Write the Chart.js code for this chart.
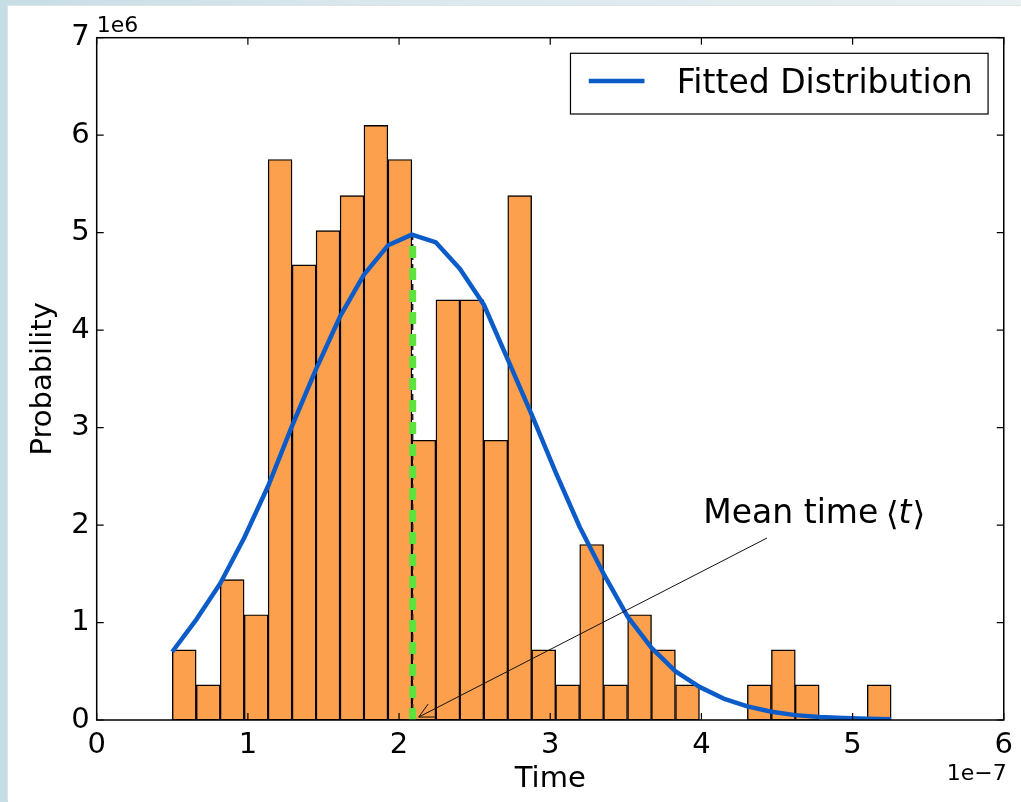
<!DOCTYPE html>
<html><head><meta charset="utf-8">
<script src="https://cdn.jsdelivr.net/npm/chart.js@4.4.1/dist/chart.umd.min.js"></script>
<style>
html,body{margin:0;padding:0;width:1021px;height:802px;overflow:hidden;background:linear-gradient(90deg,#c6dde5 0%,#d9e8ed 35%,#e8f0f2 100%);}
#wrap{position:absolute;left:8px;top:6px;width:1013px;height:796px;background:#fff;box-shadow:-1px -1px 0 #dfe3e4;}
canvas{display:block}
</style></head><body><div id="wrap"><canvas id="c" width="1013" height="796"></canvas></div>
<script>
// Histogram bins (x in units of 1e-7 s, y in units of 1e6)
const binCenters = [0.579, 0.738, 0.896, 1.055, 1.213, 1.372, 1.530, 1.689, 1.847, 2.006,
                    2.164, 2.323, 2.481, 2.640, 2.798, 2.957, 3.115, 3.274, 3.432, 3.591,
                    3.749, 3.908, 4.066, 4.225, 4.383, 4.542, 4.700, 4.859, 5.017, 5.176];
const binHeights = [0.72, 0.36, 1.44, 1.08, 5.75, 4.67, 5.02, 5.38, 6.10, 5.75,
                    2.87, 4.31, 4.31, 2.87, 5.38, 0.72, 0.36, 1.80, 0.36, 1.08,
                    0.72, 0.36, 0, 0, 0.36, 0.72, 0.36, 0, 0, 0.36];
// Fitted distribution sampled at the bin edges
const curveX = [0.500, 0.659, 0.817, 0.976, 1.134, 1.293, 1.451, 1.610, 1.768, 1.927, 2.085,
                2.244, 2.402, 2.561, 2.719, 2.878, 3.036, 3.195, 3.353, 3.512, 3.670,
                3.829, 3.987, 4.146, 4.304, 4.463, 4.621, 4.780, 4.938, 5.097, 5.255];
const curveY = [0.70, 1.03, 1.40, 1.87, 2.40, 3.02, 3.60, 4.14, 4.57, 4.87, 4.98,
                4.90, 4.63, 4.26, 3.70, 3.13, 2.54, 1.98, 1.50, 1.06, 0.74,
                0.50, 0.34, 0.22, 0.14, 0.085, 0.05, 0.03, 0.02, 0.012, 0.008];
const meanTime = 2.09;
const meanPeak = 4.97;
const arrowTip = [2.13, 0.03];
const xTicks = [0, 1, 2, 3, 4, 5, 6];
const yTicks = [0, 1, 2, 3, 4, 5, 6, 7];
const legendLabel = 'Fitted Distribution';
const annotationText = 'Mean time ';
const xOffsetText = '1e\u22127';
const yOffsetText = '1e6';

const FONT = '"DejaVu Sans", "Liberation Sans", sans-serif';

const decor = {
  id: 'decor',
  afterDatasetsDraw(chart) {
    const ctx = chart.ctx, a = chart.chartArea;
    const xs = chart.scales.x, ys = chart.scales.y;
    ctx.save();
    // frame
    ctx.strokeStyle = '#000'; ctx.lineWidth = 1.5;
    ctx.strokeRect(a.left, a.top, a.right - a.left, a.bottom - a.top);
    // inward ticks on all sides
    ctx.lineWidth = 1.2;
    ctx.beginPath();
    xTicks.forEach(v => {
      const p = xs.getPixelForValue(v);
      ctx.moveTo(p, a.bottom); ctx.lineTo(p, a.bottom - 7);
      ctx.moveTo(p, a.top); ctx.lineTo(p, a.top + 7);
    });
    yTicks.forEach(v => {
      const p = ys.getPixelForValue(v);
      ctx.moveTo(a.left, p); ctx.lineTo(a.left + 7, p);
      ctx.moveTo(a.right, p); ctx.lineTo(a.right - 7, p);
    });
    ctx.stroke();
    // offset texts
    ctx.fillStyle = '#000';
    ctx.font = '22px ' + FONT;
    ctx.textBaseline = 'alphabetic';
    ctx.textAlign = 'left';
    ctx.fillText(yOffsetText, a.left, a.top - 5.5);
    ctx.font = '22px ' + FONT;
    ctx.textAlign = 'right';
    ctx.fillText(xOffsetText, a.right + 3, a.bottom + 60);
    // legend
    const bx = a.right - 433.3, by = a.top + 15.6, bw = 417.6, bh = 60.7;
    ctx.fillStyle = '#fff';
    ctx.fillRect(bx, by, bw, bh);
    ctx.strokeStyle = '#000'; ctx.lineWidth = 1.2;
    ctx.strokeRect(bx, by, bw, bh);
    ctx.strokeStyle = '#0b5cc8'; ctx.lineWidth = 4.5;
    ctx.beginPath(); ctx.moveTo(bx + 18.3, by + 27.7); ctx.lineTo(bx + 74, by + 27.7); ctx.stroke();
    ctx.fillStyle = '#000';
    ctx.font = '33px ' + FONT;
    ctx.textAlign = 'left';
    ctx.fillText(legendLabel, bx + 106.3, by + 40);
    // annotation text
    const tx = 695.3, ty = 517.3;
    ctx.font = '33px ' + FONT;
    ctx.fillText(annotationText, tx, ty);
    let w = ctx.measureText(annotationText).width;
    ctx.fillText('\u27E8', tx + w - 3, ty + 2);
    w += ctx.measureText('\u27E8').width - 3;
    ctx.font = 'italic 33px ' + FONT;
    ctx.fillText('t', tx + w, ty);
    w += ctx.measureText('t').width;
    ctx.font = '33px ' + FONT;
    ctx.fillText('\u27E9', tx + w + 1, ty + 2);
    // arrow
    const px = xs.getPixelForValue(arrowTip[0]), py = ys.getPixelForValue(arrowTip[1]);
    const sx = 759, sy = 532;
    ctx.strokeStyle = '#111'; ctx.lineWidth = 1;
    ctx.beginPath(); ctx.moveTo(sx, sy); ctx.lineTo(px, py); ctx.stroke();
    const ang = Math.atan2(sy - py, sx - px);
    const L = 16, h = 0.47;
    ctx.beginPath();
    ctx.moveTo(px + L * Math.cos(ang - h), py + L * Math.sin(ang - h));
    ctx.lineTo(px, py);
    ctx.lineTo(px + L * Math.cos(ang + h), py + L * Math.sin(ang + h));
    ctx.stroke();
    ctx.restore();
  }
};

new Chart(document.getElementById('c'), {
  type: 'bar',
  data: {
    datasets: [
      {
        type: 'line', label: legendLabel, order: 0,
        data: curveX.map((x, i) => ({x, y: curveY[i]})),
        borderColor: '#0b5cc8', borderWidth: 4.5, pointRadius: 0, fill: false, tension: 0,
        borderJoinStyle: 'round'
      },
      {
        type: 'line', label: 'mean', order: 1,
        data: [{x: meanTime, y: 0}, {x: meanTime, y: meanPeak}],
        borderColor: '#5de23e', borderWidth: 7, borderDash: [12, 10], pointRadius: 0, fill: false,
        borderCapStyle: 'butt'
      },
      {
        type: 'line', label: 'mean2', order: 2,
        data: [{x: meanTime, y: 0}, {x: meanTime, y: meanPeak}],
        borderColor: '#222', borderWidth: 1.5, borderDash: [6, 4], pointRadius: 0, fill: false
      },
      {
        type: 'bar', label: 'hist', order: 3,
        data: binCenters.map((x, i) => ({x, y: binHeights[i]})),
        backgroundColor: '#fda04d', borderColor: '#000', borderWidth: 1.4,
        borderSkipped: false, barPercentage: 1, categoryPercentage: 1
      }
    ]
  },
  options: {
    responsive: false, animation: false, events: [],
    layout: {padding: {left: 0, top: 31.7, right: 16, bottom: 0}},
    plugins: {legend: {display: false}, tooltip: {enabled: false}},
    scales: {
      x: {
        type: 'linear', min: 0, max: 6, offset: false,
        grid: {display: false, drawTicks: false}, border: {display: false},
        afterBuildTicks: s => { s.ticks = xTicks.map(v => ({value: v})); },
        afterFit: s => { s.height = 82; },
        ticks: {font: {family: FONT, size: 29}, color: '#000', padding: 8, maxRotation: 0,
                callback: v => String(v)},
        title: {display: true, text: 'Time', font: {family: FONT, size: 29}, color: '#000',
                padding: {top: 0, bottom: 5.6}}
      },
      y: {
        type: 'linear', min: 0, max: 7,
        grid: {display: false, drawTicks: false}, border: {display: false},
        afterBuildTicks: s => { s.ticks = yTicks.map(v => ({value: v})); },
        afterFit: s => { s.width = 88.7; },
        ticks: {font: {family: FONT, size: 29}, color: '#000', padding: 7,
                callback: v => String(v)},
        title: {display: true, text: 'Probability', font: {family: FONT, size: 29}, color: '#000',
                padding: {top: 17.6, bottom: 0}}
      }
    }
  },
  plugins: [decor]
});
</script></body></html>
